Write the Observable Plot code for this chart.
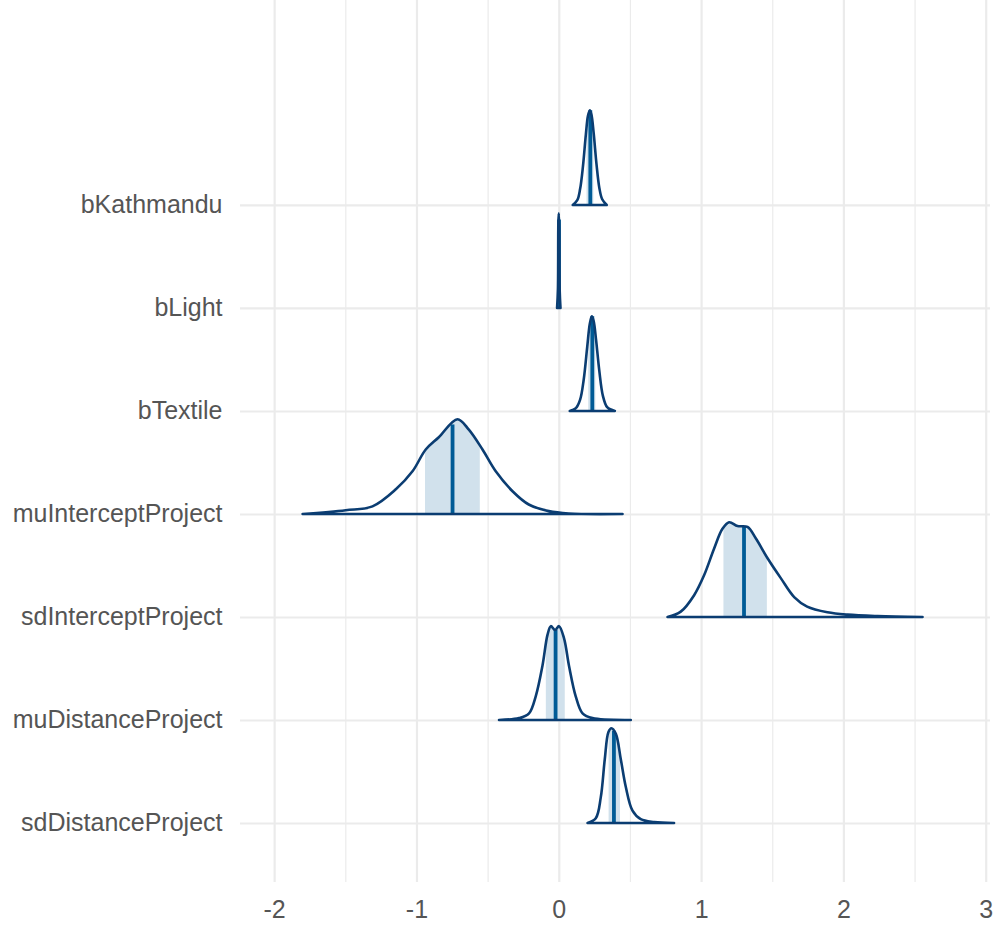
<!DOCTYPE html>
<html>
<head>
<meta charset="utf-8">
<script src="https://cdn.jsdelivr.net/npm/d3@7"></script>
<script src="https://cdn.jsdelivr.net/npm/@observablehq/plot@0.6"></script>
<style>
  html, body { margin: 0; padding: 0; background: #ffffff; }
  #chart { width: 995px; height: 928px; }
</style>
</head>
<body>
<div id="chart"></div>
<script>
// Parameters, top to bottom
const params = ["bKathmandu", "bLight", "bTextile", "muInterceptProject", "sdInterceptProject", "muDistanceProject", "sdDistanceProject"];

// Density outlines: x values and relative heights (peak = 1)
const bKathmanduX = [0.098, 0.13, 0.15, 0.17, 0.19, 0.205, 0.218, 0.23, 0.245, 0.265, 0.285, 0.305, 0.337];
const bKathmanduH = [0.0, 0.05, 0.17, 0.41, 0.74, 0.94, 1.0, 0.95, 0.76, 0.43, 0.18, 0.06, 0.0];

const bLightX = [-0.012, -0.006, -0.003, 0.0, 0.003, 0.006, 0.012];
const bLightH = [0.0, 0.2, 0.9, 1.0, 0.85, 0.2, 0.0];

const bTextileX = [0.077, 0.12, 0.15, 0.175, 0.2, 0.218, 0.232, 0.245, 0.262, 0.285, 0.31, 0.34, 0.394];
const bTextileH = [0.0, 0.03, 0.12, 0.33, 0.68, 0.92, 1.0, 0.95, 0.75, 0.42, 0.16, 0.04, 0.0];

const muInterceptX = [-1.80, -1.497, -1.309, -1.145, -1.028, -0.935, -0.843, -0.712, -0.632, -0.536, -0.443, -0.325, -0.211, -0.070, 0.070, 0.448];
const muInterceptH = [0.0, 0.04, 0.08, 0.26, 0.45, 0.68, 0.81, 1.0, 0.89, 0.68, 0.45, 0.24, 0.10, 0.03, 0.005, 0.0];

const sdInterceptX = [0.764, 0.857, 0.951, 1.021, 1.091, 1.150, 1.197, 1.256, 1.326, 1.384, 1.467, 1.560, 1.654, 1.745, 1.888, 2.029, 2.240, 2.556];
const sdInterceptH = [0.0, 0.056, 0.23, 0.44, 0.72, 0.93, 1.0, 0.96, 0.95, 0.83, 0.62, 0.41, 0.21, 0.11, 0.05, 0.025, 0.01, 0.0];

const muDistanceX = [-0.420, -0.279, -0.209, -0.162, -0.115, -0.079, -0.056, -0.026, 0.002, 0.037, 0.072, 0.119, 0.167, 0.237, 0.506];
const muDistanceH = [0.0, 0.02, 0.07, 0.25, 0.57, 0.90, 0.99, 0.95, 0.99, 0.86, 0.57, 0.25, 0.07, 0.02, 0.0];

const sdDistanceX = [0.202, 0.260, 0.295, 0.323, 0.349, 0.370, 0.401, 0.436, 0.471, 0.518, 0.576, 0.670, 0.810];
const sdDistanceH = [0.0, 0.05, 0.27, 0.67, 0.96, 1.0, 0.94, 0.67, 0.38, 0.13, 0.04, 0.01, 0.0];

// Point estimates (medians) and 50% interval bounds
const medians = [0.218, -0.002, 0.232, -0.75, 1.298, -0.026, 0.384];
const intervalLo = [0.195, -0.004, 0.207, -0.94, 1.157, -0.091, 0.35];
const intervalHi = [0.243, 0.001, 0.257, -0.555, 1.462, 0.042, 0.43];

const xTicks = [-2, -1, 0, 1, 2, 3];
const xTickLabels = ["-2", "-1", "0", "1", "2", "3"];
const xMinorTicks = [-1.5, -0.5, 0.5, 1.5, 2.5];

// ---- build tables ----
const densX = [bKathmanduX, bLightX, bTextileX, muInterceptX, sdInterceptX, muDistanceX, sdDistanceX];
const densH = [bKathmanduH, bLightH, bTextileH, muInterceptH, sdInterceptH, muDistanceH, sdDistanceH];
const S = 0.92; // density height relative to row spacing
const rowPos = params.map((p, i) => params.length - i);

function heightAt(xs, hs, x) {
  if (x <= xs[0]) return hs[0];
  if (x >= xs[xs.length - 1]) return hs[hs.length - 1];
  const j = d3.bisectRight(xs, x);
  const t = (x - xs[j - 1]) / (xs[j] - xs[j - 1]);
  return hs[j - 1] + t * (hs[j] - hs[j - 1]);
}

const outline = [];
const inner = [];
const medianRows = [];
params.forEach((p, i) => {
  const k = rowPos[i];
  const xs = densX[i], hs = densH[i];
  xs.forEach((x, j) => outline.push({param: p, x, y1: k, y2: k + hs[j] * S}));
  const lo = intervalLo[i], hi = intervalHi[i];
  inner.push({param: p, x: lo, y1: k, y2: k + heightAt(xs, hs, lo) * S});
  xs.forEach((x, j) => { if (x > lo && x < hi) inner.push({param: p, x, y1: k, y2: k + hs[j] * S}); });
  inner.push({param: p, x: hi, y1: k, y2: k + heightAt(xs, hs, hi) * S});
  medianRows.push({param: p, x: medians[i], y1: k, y2: k + heightAt(xs, hs, medians[i]) * S});
});

const chart = Plot.plot({
  width: 995,
  height: 928,
  marginLeft: 240,
  marginRight: 5,
  marginTop: 0,
  marginBottom: 46,
  style: {fontFamily: "'Liberation Sans', Arial, sans-serif", fontSize: "25px", color: "#555555", background: "#ffffff"},
  x: {domain: [-2.24, 3.03]},
  y: {domain: [0.427, 8.99]},
  marks: [
    Plot.gridX(xMinorTicks, {stroke: "#ebebeb", strokeOpacity: 1, strokeWidth: 1.2}),
    Plot.gridX(xTicks, {stroke: "#ebebeb", strokeOpacity: 1, strokeWidth: 2.2}),
    Plot.gridY(rowPos, {stroke: "#ebebeb", strokeOpacity: 1, strokeWidth: 2.2}),
    Plot.axisX(xTicks, {tickSize: 0, tickPadding: 18, fontSize: 25, fill: "#555555", label: null,
      tickFormat: (d) => xTickLabels[xTicks.indexOf(d)]}),
    Plot.axisY(rowPos, {tickSize: 0, tickPadding: 18, fontSize: 25, fill: "#555555", label: null,
      tickFormat: (d) => params[params.length - d]}),
    Plot.areaY(inner, {x: "x", y1: "y1", y2: "y2", z: "param", fill: "#d1e1ec", stroke: "none", curve: "catmull-rom"}),
    Plot.ruleX(medianRows, {x: "x", y1: "y1", y2: "y2", stroke: "#005b96", strokeWidth: 3.8}),
    Plot.areaY(outline, {x: "x", y1: "y1", y2: "y2", z: "param", fill: "none", stroke: "#0b3d72", strokeWidth: 2.6, strokeLinejoin: "round", curve: "catmull-rom"})
  ]
});
document.getElementById("chart").appendChild(chart);
</script>
</body>
</html>
